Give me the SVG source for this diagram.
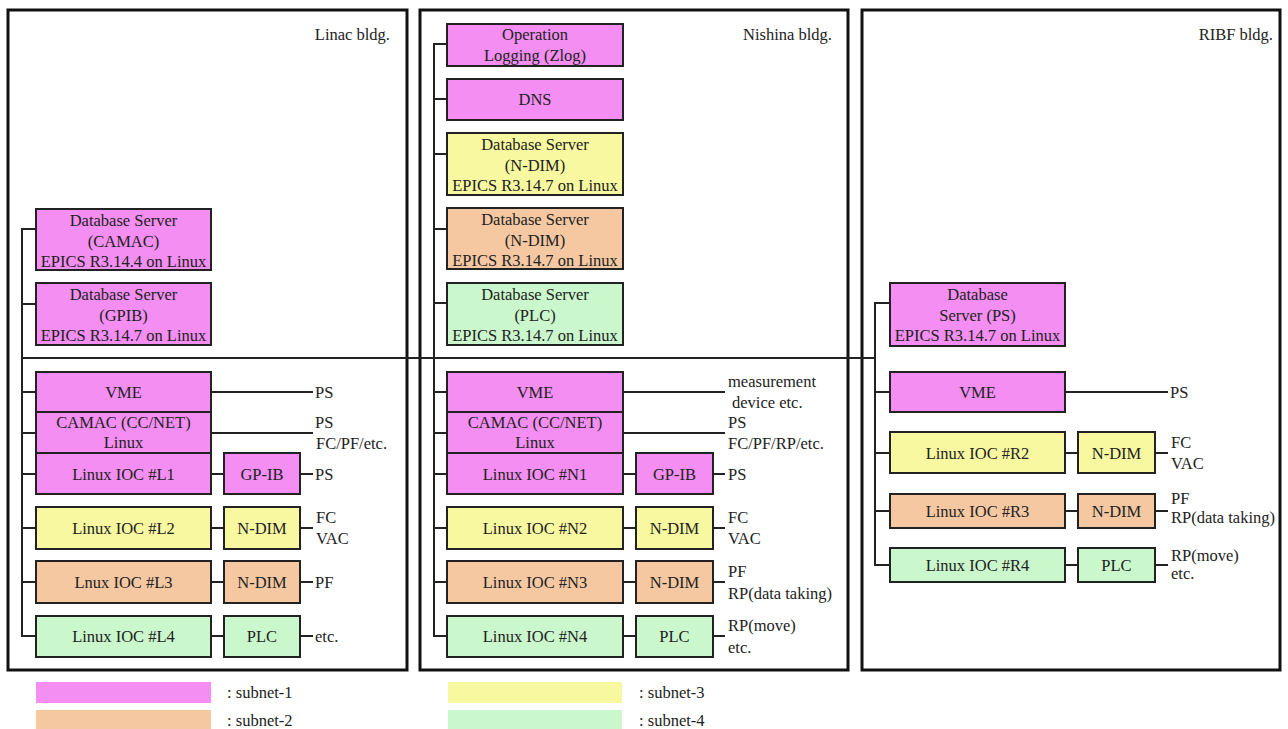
<svg xmlns="http://www.w3.org/2000/svg" width="1288" height="729" viewBox="0 0 1288 729" font-family="'Liberation Serif', 'DejaVu Serif', serif">
<style>
text{font-family:'Liberation Serif','Times New Roman','DejaVu Serif',serif;font-size:16.5px;fill:#222}
.c{text-anchor:middle}
.e{text-anchor:end}
.bld{fill:none;stroke:#111;stroke-width:3}
.n rect{stroke:#222;stroke-width:2}
.m{fill:#F48EF2}.y{fill:#F8F8A0}.o{fill:#F5C8A2}.g{fill:#CAF7CC}
.ln{fill:none;stroke:#222;stroke-width:2}
</style>
<rect width="1288" height="729" fill="#fff"/>
<g id="buildings">
<rect class="bld" x="8" y="10" width="399" height="660"/>
<text class="e" x="390" y="40">Linac bldg.</text>
<rect class="bld" x="420" y="10" width="428" height="660"/>
<text class="e" x="832" y="40">Nishina bldg.</text>
<rect class="bld" x="862" y="10" width="418" height="660"/>
<text class="e" x="1273" y="40">RIBF bldg.</text>
</g>
<g id="connectors" class="ln">
<path d="M22,358 H875"/>
<path d="M36,229 H22 V636 H36 M22,304 H36 M22,392 H36 M22,433 H36 M22,474 H36 M22,528 H36 M22,582 H36"/>
<path d="M211,392 H313 M211,433 H313 M211,474 H224 M300,474 H313 M211,528 H224 M300,528 H313 M211,582 H224 M300,582 H313 M211,636 H224 M300,636 H313"/>
<path d="M447,44 H434 V636 H447 M434,99 H447 M434,154 H447 M434,229 H447 M434,303 H447 M434,392 H447 M434,433 H447 M434,474 H447 M434,528 H447 M434,582 H447"/>
<path d="M623,392 H725 M623,433 H725 M623,474 H636 M713,474 H725 M623,528 H636 M713,528 H725 M623,582 H636 M713,582 H725 M623,636 H636 M713,636 H725"/>
<path d="M890,303 H875 V565 H890 M875,392 H890 M875,453 H890 M875,511 H890"/>
<path d="M1065,392 H1168 M1065,453 H1078 M1155,453 H1168 M1065,511 H1078 M1155,511 H1168 M1065,565 H1078 M1155,565 H1168"/>
</g>
<g id="linac-db-camac" class="n"><rect class="m" x="36" y="209" width="175" height="61"/><text class="c" x="123.5" y="226">Database Server</text><text class="c" x="123.5" y="246.5">(CAMAC)</text><text class="c" x="123.5" y="267">EPICS R3.14.4 on Linux</text></g>
<g id="linac-db-gpib" class="n"><rect class="m" x="36" y="283" width="175" height="62"/><text class="c" x="123.5" y="300">Database Server</text><text class="c" x="123.5" y="320.5">(GPIB)</text><text class="c" x="123.5" y="341">EPICS R3.14.7 on Linux</text></g>
<g id="linac-vme" class="n"><rect class="m" x="36" y="372" width="175" height="40"/><text class="c" x="123.5" y="397.5">VME</text></g>
<g id="linac-camac" class="n"><rect class="m" x="36" y="412" width="175" height="41"/><text class="c" x="123.5" y="428">CAMAC (CC/NET)</text><text class="c" x="123.5" y="448">Linux</text></g>
<g id="linac-l1" class="n"><rect class="m" x="36" y="453" width="175" height="41"/><text class="c" x="123.5" y="479.5">Linux IOC #L1</text></g>
<g id="linac-gpib" class="n"><rect class="m" x="224" y="453" width="76" height="41"/><text class="c" x="262" y="479.5">GP-IB</text></g>
<g id="linac-l2" class="n"><rect class="y" x="36" y="507" width="175" height="42"/><text class="c" x="123.5" y="533.5">Linux IOC #L2</text></g>
<g id="linac-ndim2" class="n"><rect class="y" x="224" y="507" width="76" height="42"/><text class="c" x="262" y="533.5">N-DIM</text></g>
<g id="linac-l3" class="n"><rect class="o" x="36" y="561" width="175" height="42"/><text class="c" x="123.5" y="587.5">Lnux IOC #L3</text></g>
<g id="linac-ndim3" class="n"><rect class="o" x="224" y="561" width="76" height="42"/><text class="c" x="262" y="587.5">N-DIM</text></g>
<g id="linac-l4" class="n"><rect class="g" x="36" y="616" width="175" height="41"/><text class="c" x="123.5" y="642">Linux IOC #L4</text></g>
<g id="linac-plc" class="n"><rect class="g" x="224" y="616" width="76" height="41"/><text class="c" x="262" y="642">PLC</text></g>
<g id="linac-labels">
<text x="315" y="398">PS</text>
<text x="315" y="428">PS</text><text x="316" y="449">FC/PF/etc.</text>
<text x="315" y="480">PS</text>
<text x="316" y="523">FC</text><text x="316" y="544">VAC</text>
<text x="315" y="588">PF</text>
<text x="315" y="642">etc.</text>
</g>
<g id="nishina-zlog" class="n"><rect class="m" x="447" y="24" width="176" height="42"/><text class="c" x="535" y="40">Operation</text><text class="c" x="535" y="61">Logging (Zlog)</text></g>
<g id="nishina-dns" class="n"><rect class="m" x="447" y="79" width="176" height="41"/><text class="c" x="535" y="105">DNS</text></g>
<g id="nishina-db-ndim3" class="n"><rect class="y" x="447" y="133" width="176" height="62"/><text class="c" x="535" y="150">Database Server</text><text class="c" x="535" y="170.5">(N-DIM)</text><text class="c" x="535" y="191">EPICS R3.14.7 on Linux</text></g>
<g id="nishina-db-ndim2" class="n"><rect class="o" x="447" y="208" width="176" height="61"/><text class="c" x="535" y="225">Database Server</text><text class="c" x="535" y="245.5">(N-DIM)</text><text class="c" x="535" y="266">EPICS R3.14.7 on Linux</text></g>
<g id="nishina-db-plc" class="n"><rect class="g" x="447" y="283" width="176" height="62"/><text class="c" x="535" y="300">Database Server</text><text class="c" x="535" y="320.5">(PLC)</text><text class="c" x="535" y="341">EPICS R3.14.7 on Linux</text></g>
<g id="nishina-vme" class="n"><rect class="m" x="447" y="372" width="176" height="40"/><text class="c" x="535" y="397.5">VME</text></g>
<g id="nishina-camac" class="n"><rect class="m" x="447" y="412" width="176" height="41"/><text class="c" x="535" y="428">CAMAC (CC/NET)</text><text class="c" x="535" y="448">Linux</text></g>
<g id="nishina-n1" class="n"><rect class="m" x="447" y="453" width="176" height="41"/><text class="c" x="535" y="479.5">Linux IOC #N1</text></g>
<g id="nishina-gpib" class="n"><rect class="m" x="636" y="453" width="77" height="41"/><text class="c" x="674.5" y="479.5">GP-IB</text></g>
<g id="nishina-n2" class="n"><rect class="y" x="447" y="507" width="176" height="42"/><text class="c" x="535" y="533.5">Linux IOC #N2</text></g>
<g id="nishina-ndim2" class="n"><rect class="y" x="636" y="507" width="77" height="42"/><text class="c" x="674.5" y="533.5">N-DIM</text></g>
<g id="nishina-n3" class="n"><rect class="o" x="447" y="561" width="176" height="42"/><text class="c" x="535" y="587.5">Linux IOC #N3</text></g>
<g id="nishina-ndim3" class="n"><rect class="o" x="636" y="561" width="77" height="42"/><text class="c" x="674.5" y="587.5">N-DIM</text></g>
<g id="nishina-n4" class="n"><rect class="g" x="447" y="616" width="176" height="41"/><text class="c" x="535" y="642">Linux IOC #N4</text></g>
<g id="nishina-plc" class="n"><rect class="g" x="636" y="616" width="77" height="41"/><text class="c" x="674.5" y="642">PLC</text></g>
<g id="nishina-labels">
<text x="728" y="387">measurement</text><text x="732" y="408">device etc.</text>
<text x="728" y="428">PS</text><text x="728" y="449">FC/PF/RP/etc.</text>
<text x="728" y="480">PS</text>
<text x="728" y="523">FC</text><text x="728" y="544">VAC</text>
<text x="728" y="577">PF</text><text x="728" y="599">RP(data taking)</text>
<text x="728" y="631">RP(move)</text><text x="728" y="653">etc.</text>
</g>
<g id="ribf-db-ps" class="n"><rect class="m" x="890" y="283" width="175" height="63"/><text class="c" x="977.5" y="300">Database</text><text class="c" x="977.5" y="320.5">Server (PS)</text><text class="c" x="977.5" y="341">EPICS R3.14.7 on Linux</text></g>
<g id="ribf-vme" class="n"><rect class="m" x="890" y="372" width="175" height="40"/><text class="c" x="977.5" y="397.5">VME</text></g>
<g id="ribf-r2" class="n"><rect class="y" x="890" y="432" width="175" height="41"/><text class="c" x="977.5" y="458.5">Linux IOC #R2</text></g>
<g id="ribf-ndim2" class="n"><rect class="y" x="1078" y="432" width="77" height="41"/><text class="c" x="1116.5" y="458.5">N-DIM</text></g>
<g id="ribf-r3" class="n"><rect class="o" x="890" y="494" width="175" height="34"/><text class="c" x="977.5" y="516.5">Linux IOC #R3</text></g>
<g id="ribf-ndim3" class="n"><rect class="o" x="1078" y="494" width="77" height="34"/><text class="c" x="1116.5" y="516.5">N-DIM</text></g>
<g id="ribf-r4" class="n"><rect class="g" x="890" y="548" width="175" height="34"/><text class="c" x="977.5" y="570.5">Linux IOC #R4</text></g>
<g id="ribf-plc" class="n"><rect class="g" x="1078" y="548" width="77" height="34"/><text class="c" x="1116.5" y="570.5">PLC</text></g>
<g id="ribf-labels">
<text x="1170" y="398">PS</text>
<text x="1171" y="448">FC</text><text x="1171" y="469">VAC</text>
<text x="1171" y="504">PF</text><text x="1171" y="523">RP(data taking)</text>
<text x="1171" y="561">RP(move)</text><text x="1171" y="579">etc.</text>
</g>
<g id="legend">
<rect class="m" x="36" y="682" width="175" height="21"/><text x="227" y="698">: subnet-1</text>
<rect class="o" x="36" y="710" width="175" height="21"/><text x="227" y="726">: subnet-2</text>
<rect class="y" x="448" y="682" width="174" height="21"/><text x="639" y="698">: subnet-3</text>
<rect class="g" x="448" y="710" width="174" height="21"/><text x="639" y="726">: subnet-4</text>
</g>
</svg>
